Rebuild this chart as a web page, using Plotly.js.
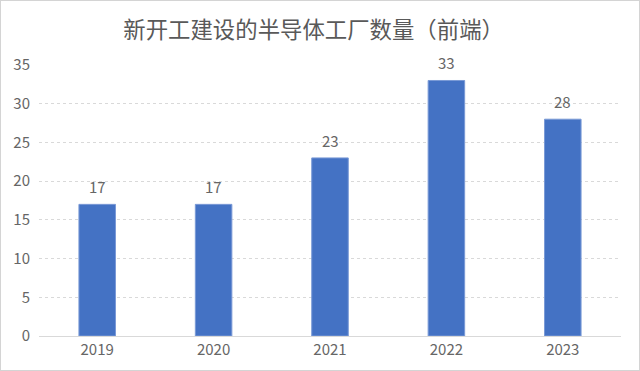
<!DOCTYPE html>
<html><head><meta charset="utf-8">
<script src="https://cdn.plot.ly/plotly-3.0.1.min.js"></script>
<style>html,body{margin:0;padding:0;background:#fff}#c{width:638px;height:369px;border:1px solid #d4d4d4}</style>
</head><body><div id="c"></div>
<script>
const years = ['2019','2020','2021','2022','2023'];
const counts = [17, 17, 23, 33, 28];
const yTicks = [0,5,10,15,20,25,30,35];
const numFont = 'Noto Sans CJK SC, Liberation Sans, sans-serif';
Plotly.newPlot('c', [{
  type:'bar', x: years, y: counts,
  marker:{color:'#4472C4', line:{color:'#7a9ad6', width:1}},
  hoverinfo:'none'
}], {
  width:638, height:369,
  margin:{l:38,r:18,t:64,b:34},
  paper_bgcolor:'#fff', plot_bgcolor:'#fff',
  bargap:0.686,
  title:{text:'新开工建设的半导体工厂数量（前端）', x:0.49, xanchor:'center', y:0.921, yanchor:'middle',
    font:{family:'Noto Sans CJK SC, sans-serif', size:22.4, color:'#595959'}},
  annotations: years.map((yr,i)=>({x:i, y:counts[i], xref:'x', yref:'y', text:String(counts[i]), showarrow:false,
    xanchor:'center', yanchor:'bottom', yshift:5,
    font:{family:numFont, size:15, color:'#666666'}})),
  xaxis:{type:'category', showgrid:false, zeroline:false, showline:true, linecolor:'#d9d9d9', linewidth:1,
    ticks:'', tickfont:{family:numFont, size:15, color:'#666666'}},
  yaxis:{range:[0,35], tickvals:yTicks, showgrid:true, gridcolor:'#d9d9d9', griddash:'dot', gridwidth:1,
    zeroline:false, showline:false, ticks:'', ticklen:0, ticklabelstandoff:8,
    tickfont:{family:numFont, size:15, color:'#666666'}},
  showlegend:false
}, {displayModeBar:false, staticPlot:true});
</script></body></html>
